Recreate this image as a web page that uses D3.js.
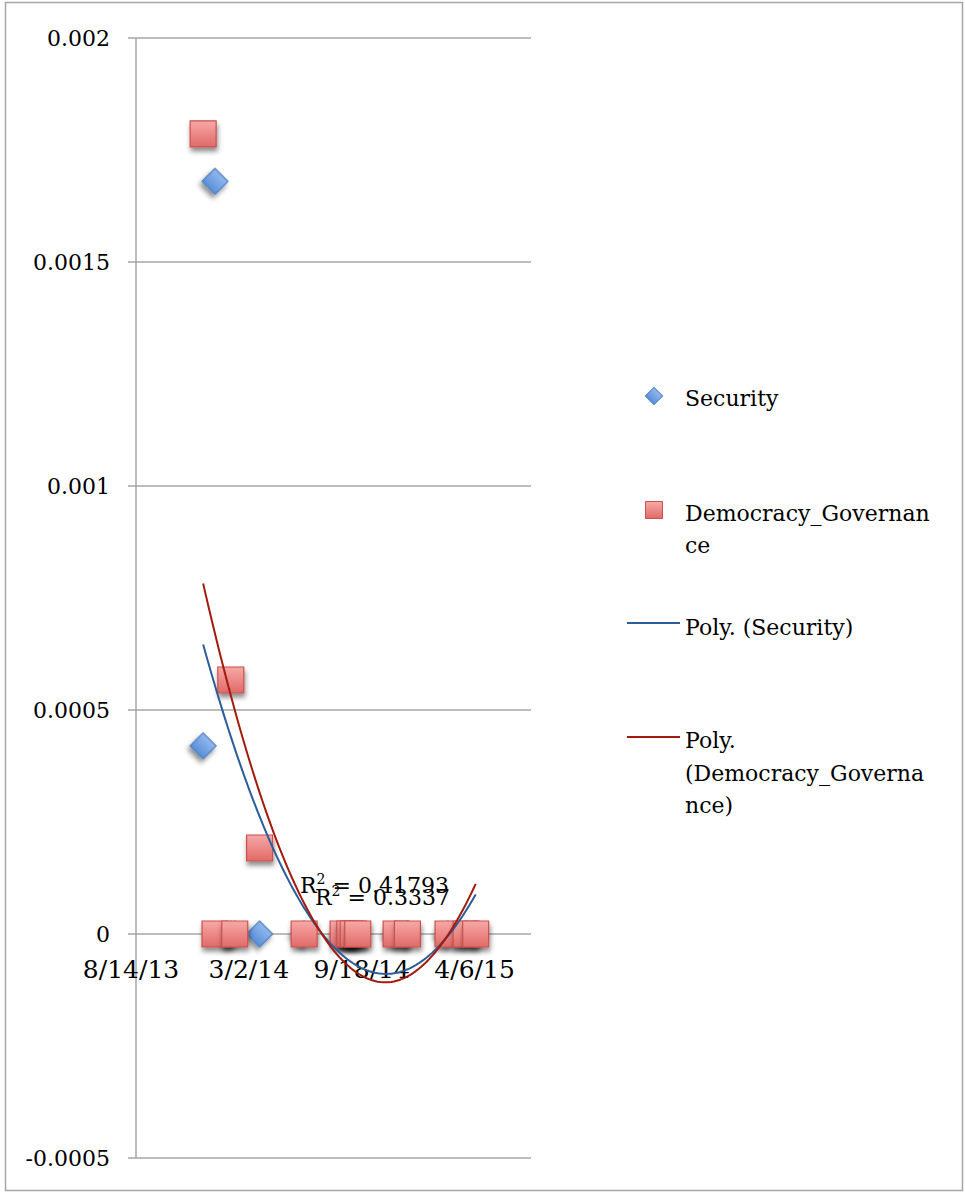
<!DOCTYPE html>
<html>
<head>
<meta charset="utf-8">
<script src="https://cdn.jsdelivr.net/npm/d3@7"></script>
<style>
  body { margin: 0; background: #fff; }
  text { font-family: "DejaVu Serif", serif; fill: #000; }
</style>
</head>
<body>
<div id="chart"></div>
<script>
    // Observation dates shared by both series
    const dates = ["2013-12-11", "2014-01-01", "2014-01-29", "2014-02-05", "2014-03-21",
      "2014-06-08", "2014-08-16", "2014-08-28", "2014-09-03", "2014-09-11",
      "2014-11-18", "2014-12-08", "2015-02-18", "2015-03-22", "2015-04-08"];
    const security = [0.00042, 0.00168, 0, 0, 0, 0, 0, 0, 0, 0, 0, 0, 0, 0, 0];
    const democracy = [0.001786, 0, 0.000567, 0, 0.000192, 0, 0, 0, 0, 0, 0, 0, 0, 0, 0];
    const yTicks = [-0.0005, 0, 0.0005, 0.001, 0.0015, 0.002];
    const yTickLabels = ["-0.0005", "0", "0.0005", "0.001", "0.0015", "0.002"];
    const xTicks = ["2013-08-14", "2014-03-02", "2014-09-18", "2015-04-06"];
    const xDomain = ["2013-08-14", "2015-07-15"];
    const r2Labels = ["0.41793", "0.3337"];

    const parse = d3.utcParse("%Y-%m-%d");
    const W = 965, H = 1193;
    const plot = { left: 136, right: 531, top: 38, bottom: 1158 };

    const svg = d3.select("#chart").append("svg")
        .attr("width", W)
        .attr("height", H);

    const defs = svg.append("defs");
    const sq = defs.append("linearGradient").attr("id", "gSq").attr("x1", 0).attr("y1", 0).attr("x2", 0).attr("y2", 1);
    sq.append("stop").attr("offset", "0%").attr("stop-color", "#f7a9a7");
    sq.append("stop").attr("offset", "100%").attr("stop-color", "#e06a67");
    const dm = defs.append("linearGradient").attr("id", "gDm").attr("x1", 0).attr("y1", 0).attr("x2", 0).attr("y2", 1);
    dm.append("stop").attr("offset", "0%").attr("stop-color", "#93b9ee");
    dm.append("stop").attr("offset", "100%").attr("stop-color", "#5a8fd9");
    defs.append("filter").attr("id", "shadow").attr("x", "-50%").attr("y", "-50%").attr("width", "200%").attr("height", "200%")
      .append("feDropShadow").attr("dx", 1).attr("dy", 4).attr("stdDeviation", 2.5)
        .attr("flood-color", "#000").attr("flood-opacity", 0.45);

    // outer frame
    svg.append("rect")
        .attr("x", 5.5).attr("y", 2.5)
        .attr("width", 957).attr("height", 1188)
        .attr("fill", "none")
        .attr("stroke", "#a6a6a6")
        .attr("stroke-width", 1.5);

    const x = d3.scaleUtc()
      .domain(xDomain.map(parse))
      .range([plot.left, plot.right]);

    const y = d3.scaleLinear()
      .domain([-0.0005, 0.002])
      .range([plot.bottom, plot.top]);

    // gridlines
    svg.append("g")
      .selectAll("line")
      .data(yTicks)
      .join("line")
        .attr("x1", plot.left - 8)
        .attr("x2", plot.right)
        .attr("y1", d => y(d))
        .attr("y2", d => y(d))
        .attr("stroke", "#a6a6a6")
        .attr("stroke-width", 1.5);

    // y axis line
    svg.append("line")
        .attr("x1", plot.left).attr("x2", plot.left)
        .attr("y1", plot.top).attr("y2", plot.bottom)
        .attr("stroke", "#a6a6a6")
        .attr("stroke-width", 1.5);

    // y tick labels
    svg.append("g")
      .selectAll("text")
      .data(yTicks)
      .join("text")
        .attr("x", 110)
        .attr("y", d => y(d))
        .attr("dy", "0.36em")
        .attr("text-anchor", "end")
        .style("font-size", "22px")
        .text((d, i) => yTickLabels[i]);

    // x tick labels (axis crosses at 0)
    const fmt = d3.utcFormat("%-m/%-d/%y");
    svg.append("g")
      .selectAll("text")
      .data(xTicks.map(parse))
      .join("text")
        .attr("x", (d, i) => x(d) - (i === 0 ? 5 : 0))
        .attr("y", y(0) + 44)
        .attr("text-anchor", "middle")
        .style("font-size", "25px")
        .text(d => fmt(d));

    // quadratic least-squares trendline
    function polyFit(xs, ys) {
      const n = xs.length;
      const mx = d3.mean(xs);
      const u = xs.map(v => v - mx);
      let s = [0, 0, 0, 0, 0], t = [0, 0, 0];
      for (let i = 0; i < n; i++) {
        for (let k = 0; k < 5; k++) s[k] += Math.pow(u[i], k);
        for (let k = 0; k < 3; k++) t[k] += ys[i] * Math.pow(u[i], k);
      }
      const A = [[s[0], s[1], s[2]], [s[1], s[2], s[3]], [s[2], s[3], s[4]]];
      const det = m => m[0][0] * (m[1][1] * m[2][2] - m[1][2] * m[2][1])
        - m[0][1] * (m[1][0] * m[2][2] - m[1][2] * m[2][0])
        + m[0][2] * (m[1][0] * m[2][1] - m[1][1] * m[2][0]);
      const D = det(A);
      const c = [0, 1, 2].map(j => det(A.map((row, r) => row.map((v, col) => col === j ? t[r] : v))) / D);
      return v => c[0] + c[1] * (v - mx) + c[2] * (v - mx) * (v - mx);
    }

    const days = dates.map(d => parse(d).getTime() / 864e5);
    const line = d3.line().curve(d3.curveLinear);

    function trend(vals, color) {
      const f = polyFit(days, vals);
      const d0 = d3.min(days), d1 = d3.max(days);
      const pts = d3.range(0, 101).map(i => {
        const dv = d0 + (d1 - d0) * i / 100;
        return [x(new Date(dv * 864e5)), y(f(dv))];
      });
      svg.append("path")
          .attr("d", line(pts))
          .attr("fill", "none")
          .attr("stroke", color)
          .attr("stroke-width", 2);
    }

    const diamond = d3.symbol(d3.symbolSquare, 338);
    const square = d3.symbol(d3.symbolSquare, 676);

    // Security points (diamonds)
    svg.append("g")
      .selectAll("path")
      .data(dates)
      .join("path")
        .attr("d", diamond)
        .attr("transform", (d, i) => `translate(${x(parse(d))},${y(security[i])}) rotate(45)`)
        .attr("fill", "url(#gDm)")
        .attr("stroke", "#4f81bd")
        .attr("stroke-width", 1.2)
        .attr("filter", "url(#shadow)");

    // Democracy_Governance points (squares)
    svg.append("g")
      .selectAll("path")
      .data(dates)
      .join("path")
        .attr("d", square)
        .attr("transform", (d, i) => `translate(${x(parse(d))},${y(democracy[i])})`)
        .attr("fill", "url(#gSq)")
        .attr("stroke", "#c9504c")
        .attr("stroke-width", 1.2)
        .attr("filter", "url(#shadow)");

    trend(security, "#2b5d9b");
    trend(democracy, "#a21b0c");

    // R² labels (they overlap in the original too)
    const r2Pos = [[300, 893], [315, 905]];
    r2Labels.forEach((v, i) => {
      const t = svg.append("text")
          .attr("x", r2Pos[i][0])
          .attr("y", r2Pos[i][1])
          .style("font-size", "22px");
      t.append("tspan").text("R");
      t.append("tspan").attr("dy", -9).style("font-size", "14px").text("2");
      t.append("tspan").attr("dy", 9).text(" = " + v);
    });

    // legend
    const lg = svg.append("g").style("font-size", "22px");
    lg.append("path")
        .attr("d", d3.symbol(d3.symbolSquare, 150))
        .attr("transform", "translate(654,396) rotate(45)")
        .attr("fill", "url(#gDm)").attr("stroke", "#4f81bd").attr("stroke-width", 1);
    lg.append("text").attr("x", 685).attr("y", 406).text("Security");

    lg.append("path")
        .attr("d", d3.symbol(d3.symbolSquare, 289))
        .attr("transform", "translate(654,510)")
        .attr("fill", "url(#gSq)").attr("stroke", "#c9504c").attr("stroke-width", 1);
    const t2 = lg.append("text").attr("x", 685).attr("y", 521);
    t2.append("tspan").attr("x", 685).text("Democracy_Governan");
    t2.append("tspan").attr("x", 685).attr("dy", 32).text("ce");

    lg.append("line").attr("x1", 627).attr("x2", 680).attr("y1", 623).attr("y2", 623)
        .attr("stroke", "#2b5d9b").attr("stroke-width", 2);
    lg.append("text").attr("x", 685).attr("y", 635).text("Poly. (Security)");

    lg.append("line").attr("x1", 627).attr("x2", 680).attr("y1", 737).attr("y2", 737)
        .attr("stroke", "#a21b0c").attr("stroke-width", 2);
    const t4 = lg.append("text").attr("x", 685).attr("y", 748);
    t4.append("tspan").attr("x", 685).text("Poly.");
    t4.append("tspan").attr("x", 685).attr("dy", 33).text("(Democracy_Governa");
    t4.append("tspan").attr("x", 685).attr("dy", 32).text("nce)");
</script>
</body>
</html>
